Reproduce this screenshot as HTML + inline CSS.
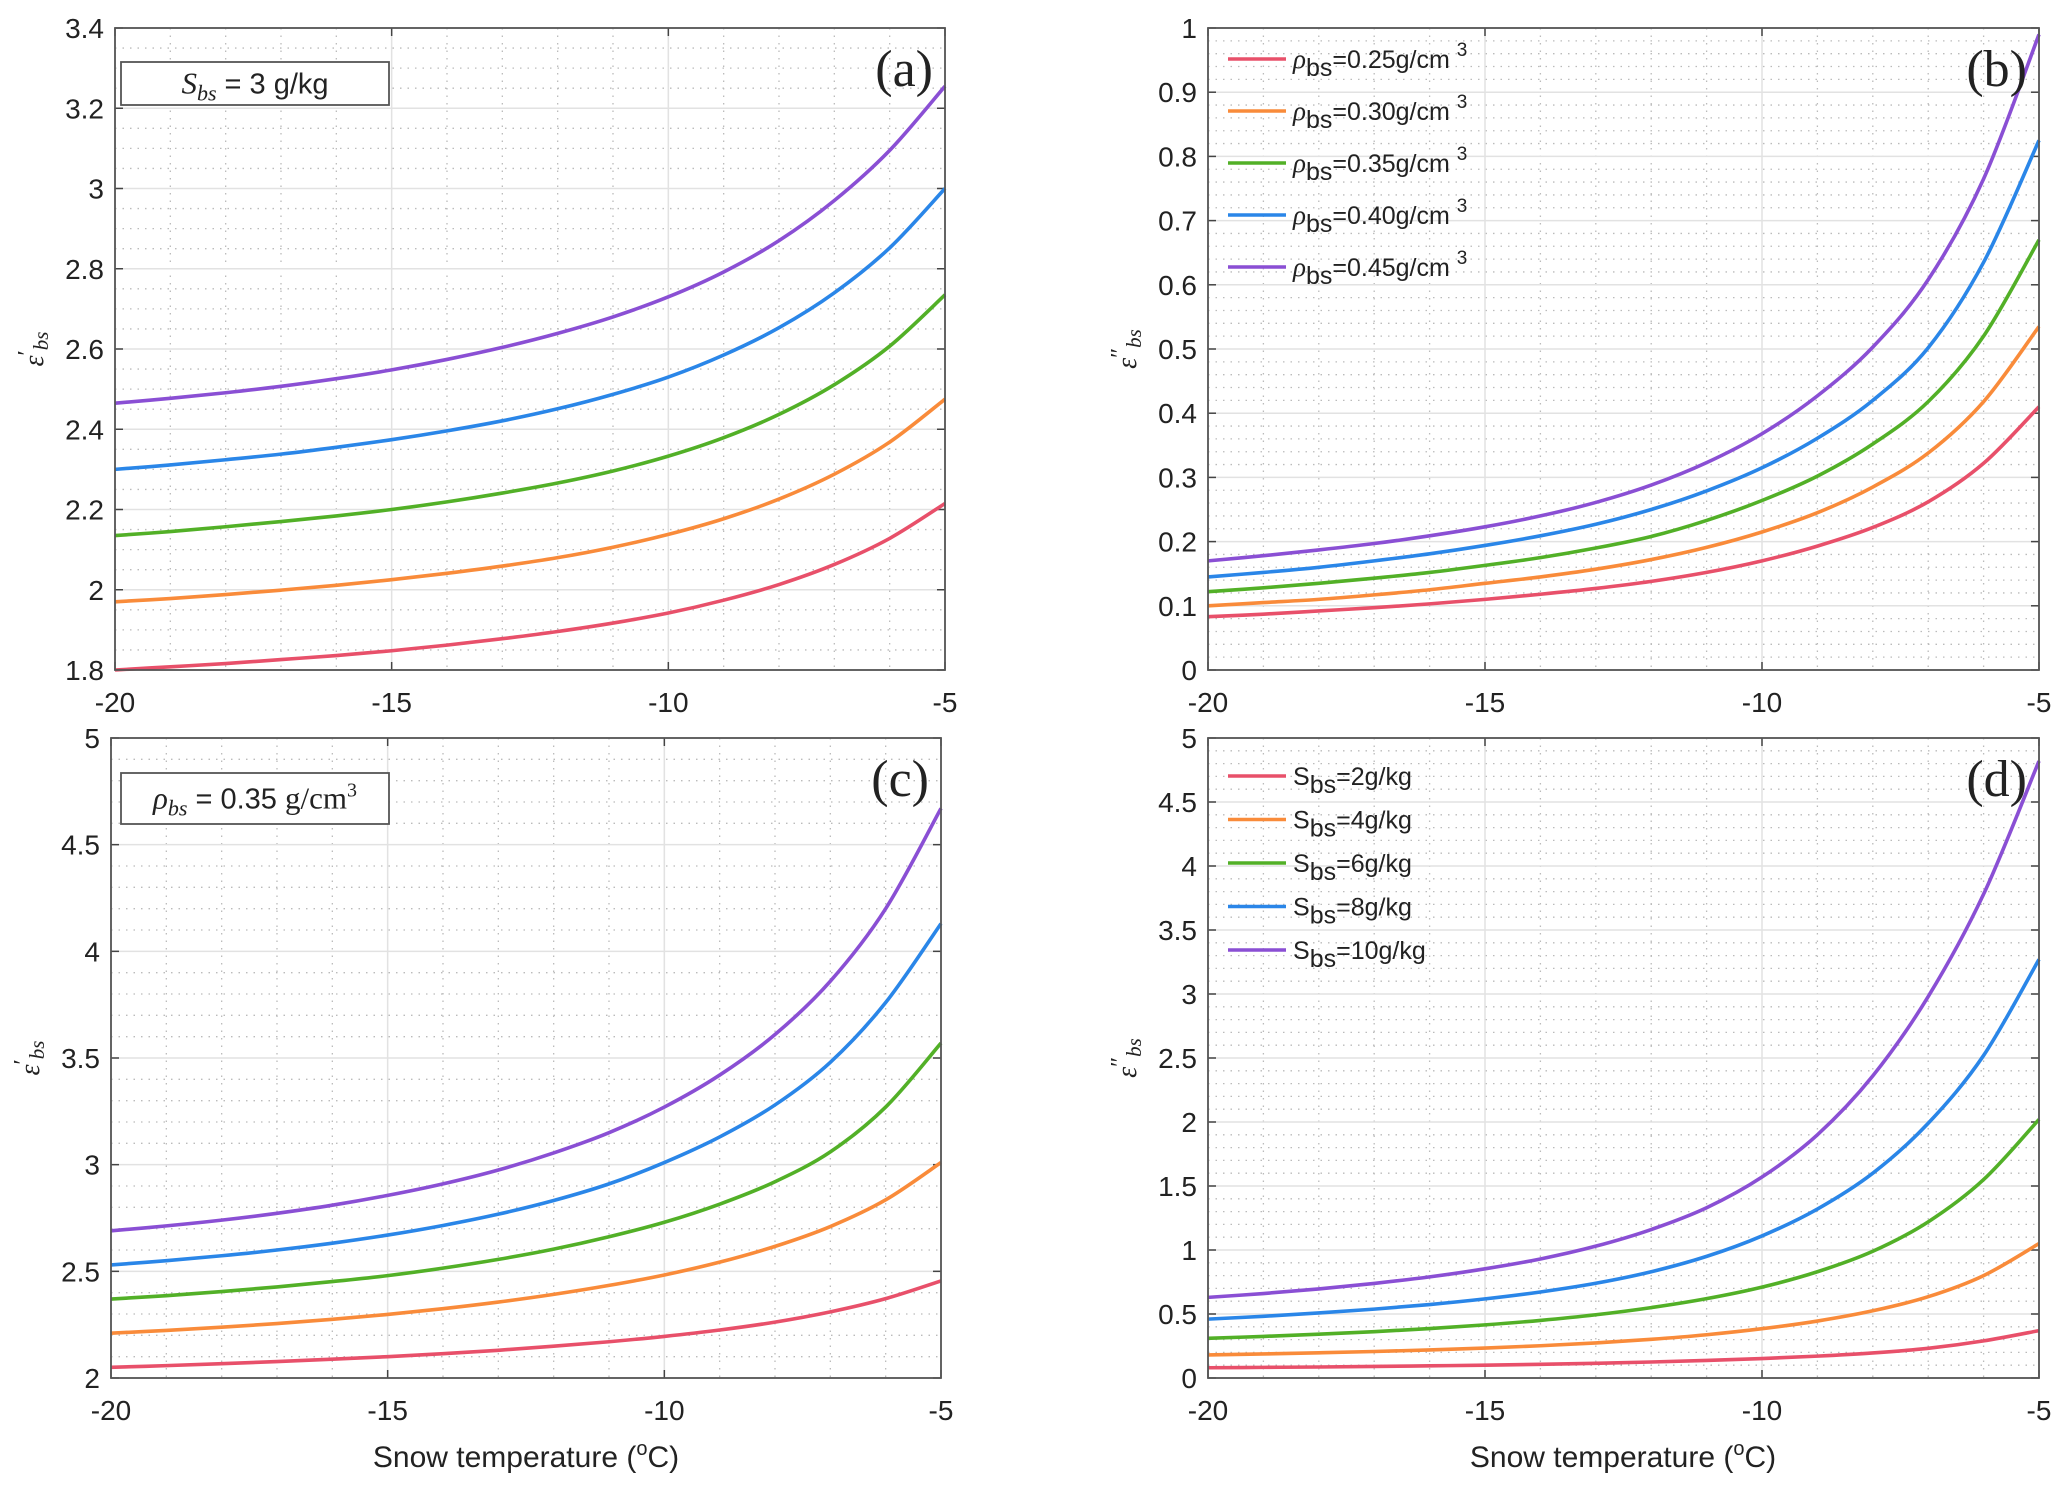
<!DOCTYPE html>
<html><head><meta charset="utf-8">
<style>
html,body{margin:0;padding:0;background:#fff;}
svg{display:block;}
text{font-family:"Liberation Sans",sans-serif;fill:#222;}
</style></head>
<body>
<svg id="fig" width="2067" height="1492" viewBox="0 0 2067 1492" xmlns="http://www.w3.org/2000/svg"></svg>
<script>
const temps = [-20,-19,-18,-17,-16,-15,-14,-13,-12,-11,-10,-9,-8,-7,-6,-5];
const colors = ["#e8506a","#f98b3a","#52b027","#2a86e8","#8a4fd4"];
const xTicks = [-20,-15,-10,-5];

const aRed    = [1.80,1.808,1.816,1.826,1.836,1.848,1.862,1.878,1.896,1.917,1.942,1.974,2.013,2.063,2.128,2.215];
const aOrange = [1.97,1.978,1.988,1.999,2.011,2.025,2.041,2.059,2.08,2.106,2.138,2.177,2.226,2.288,2.368,2.475];
const aGreen  = [2.135,2.145,2.157,2.17,2.184,2.20,2.219,2.241,2.266,2.296,2.333,2.379,2.437,2.511,2.607,2.735];
const aBlue   = [2.30,2.311,2.324,2.338,2.355,2.374,2.396,2.421,2.451,2.487,2.53,2.585,2.653,2.74,2.852,3.0];
const aPurple = [2.465,2.477,2.491,2.507,2.526,2.548,2.574,2.604,2.639,2.68,2.73,2.792,2.87,2.97,3.095,3.255];
const aTicks = [1.8,2,2.2,2.4,2.6,2.8,3,3.2,3.4];

const bRed    = [0.083,0.087,0.092,0.097,0.103,0.11,0.118,0.127,0.138,0.152,0.17,0.193,0.222,0.262,0.322,0.41];
const bOrange = [0.10,0.105,0.11,0.117,0.125,0.135,0.145,0.157,0.172,0.191,0.215,0.245,0.285,0.338,0.418,0.535];
const bGreen  = [0.122,0.128,0.135,0.143,0.152,0.163,0.175,0.19,0.208,0.233,0.264,0.302,0.352,0.418,0.52,0.67];
const bBlue   = [0.145,0.152,0.16,0.17,0.181,0.194,0.209,0.227,0.25,0.279,0.315,0.361,0.42,0.502,0.635,0.825];
const bPurple = [0.17,0.178,0.187,0.197,0.209,0.223,0.24,0.261,0.288,0.323,0.368,0.427,0.503,0.608,0.765,0.99];
const bTicks = [0,0.1,0.2,0.3,0.4,0.5,0.6,0.7,0.8,0.9,1];

const cRed    = [2.05,2.058,2.067,2.077,2.088,2.10,2.114,2.13,2.149,2.17,2.195,2.225,2.262,2.31,2.372,2.455];
const cOrange = [2.21,2.223,2.238,2.255,2.275,2.298,2.325,2.356,2.392,2.434,2.483,2.543,2.617,2.71,2.835,3.01];
const cGreen  = [2.37,2.386,2.405,2.427,2.452,2.48,2.515,2.556,2.604,2.662,2.73,2.815,2.92,3.06,3.27,3.57];
const cBlue   = [2.53,2.55,2.573,2.6,2.632,2.67,2.715,2.768,2.832,2.91,3.01,3.13,3.28,3.48,3.76,4.13];
const cPurple = [2.69,2.713,2.74,2.772,2.81,2.856,2.91,2.975,3.055,3.15,3.27,3.42,3.61,3.86,4.2,4.67];
const cTicks = [2,2.5,3,3.5,4,4.5,5];

const dRed    = [0.08,0.083,0.086,0.09,0.095,0.10,0.107,0.115,0.125,0.137,0.152,0.171,0.196,0.232,0.29,0.37];
const dOrange = [0.18,0.188,0.197,0.207,0.219,0.234,0.252,0.274,0.302,0.338,0.385,0.445,0.525,0.635,0.8,1.05];
const dGreen  = [0.31,0.325,0.342,0.362,0.386,0.415,0.45,0.494,0.55,0.62,0.71,0.83,0.99,1.22,1.55,2.02];
const dBlue   = [0.46,0.482,0.508,0.538,0.574,0.618,0.672,0.74,0.83,0.95,1.11,1.32,1.6,1.99,2.52,3.27];
const dPurple = [0.63,0.66,0.696,0.739,0.79,0.853,0.93,1.03,1.16,1.33,1.57,1.9,2.36,2.98,3.78,4.82];
const dTicks = [0,0.5,1,1.5,2,2.5,3,3.5,4,4.5,5];

const bLegend = ["0.25","0.30","0.35","0.40","0.45"];
const dLegend = ["2","4","6","8","10"];

const NS="http://www.w3.org/2000/svg";
const svg=document.getElementById('fig');
function mk(tag,attrs,parent){const e=document.createElementNS(NS,tag);for(const k in attrs)e.setAttribute(k,attrs[k]);(parent||svg).appendChild(e);return e;}

function panel(cfg){
  const {id,L,T,W,H,ymin,ymax,yticks,yminor,series,tag,ylab}=cfg;
  const g=mk('g',{});
  
  
  const xs=v=>L+(v+20)/15*W;
  const ys=v=>T+H-(v-ymin)/(ymax-ymin)*H;
  for(let t=-19;t<-5;t++){ if(t%5===0) continue;
    const l=mk('line',{x1:xs(t),x2:xs(t),y1:T,y2:T+H,stroke:'#bbb','stroke-width':1.3,'stroke-dasharray':'1.5 6'},g);
    }
  for(let v=ymin;v<ymax-1e-9;v+=yminor){
    if(yticks.some(t=>Math.abs(t-v)<1e-6)) continue;
    const l=mk('line',{x1:L,x2:L+W,y1:ys(v),y2:ys(v),stroke:'#bbb','stroke-width':1.3,'stroke-dasharray':'1.5 6'},g);
    }
  xTicks.forEach(t=>{const l=mk('line',{x1:xs(t),x2:xs(t),y1:T,y2:T+H,stroke:'#e2e2e2','stroke-width':1.5},g);
    });
  yticks.forEach(t=>{const l=mk('line',{x1:L,x2:L+W,y1:ys(t),y2:ys(t),stroke:'#e2e2e2','stroke-width':1.5},g);
    });
  xTicks.forEach(t=>{
    mk('line',{x1:xs(t),x2:xs(t),y1:T+H,y2:T+H-8,stroke:'#444','stroke-width':1.5},g);
    mk('line',{x1:xs(t),x2:xs(t),y1:T,y2:T+8,stroke:'#444','stroke-width':1.5},g);
    const tx=mk('text',{x:xs(t),y:T+H+42,'text-anchor':'middle','font-size':28},g);
    tx.textContent=String(t);
    });
  yticks.forEach(t=>{
    mk('line',{x1:L,x2:L+8,y1:ys(t),y2:ys(t),stroke:'#444','stroke-width':1.5},g);
    mk('line',{x1:L+W,x2:L+W-8,y1:ys(t),y2:ys(t),stroke:'#444','stroke-width':1.5},g);
    const tx=mk('text',{x:L-11,y:ys(t)+10,'text-anchor':'end','font-size':28},g);
    tx.textContent=String(t);
    });
  series.forEach((arr,i)=>{
    const pts=arr.map((v,k)=>[xs(temps[k]),ys(v)]);
    let d='M'+pts[0][0]+','+pts[0][1];
    for(let k=0;k<pts.length-1;k++){
      const p0=pts[Math.max(0,k-1)],p1=pts[k],p2=pts[k+1],p3=pts[Math.min(pts.length-1,k+2)];
      const c1x=p1[0]+(p2[0]-p0[0])/6,c1y=p1[1]+(p2[1]-p0[1])/6;
      const c2x=p2[0]-(p3[0]-p1[0])/6,c2y=p2[1]-(p3[1]-p1[1])/6;
      d+=` C${c1x},${c1y} ${c2x},${c2y} ${p2[0]},${p2[1]}`;
    }
    const p=mk('path',{d:d,fill:'none',stroke:colors[i],'stroke-width':3.6,'stroke-linejoin':'round'},g);
    
    
  });
  const fr=mk('rect',{x:L,y:T,width:W,height:H,fill:'none',stroke:'#555','stroke-width':1.8},g);
  
  const tg=mk('text',{x:L+W-12,y:T+58,'text-anchor':'end','font-size':52,style:'font-family:"Liberation Serif",serif'},g);
  tg.textContent=tag;
  
  const yl=mk('text',{transform:`translate(${L-72},${T+H/2}) rotate(-90)`,'text-anchor':'middle','font-size':28,style:'font-family:"Liberation Serif",serif;font-style:italic'},g);
  yl.innerHTML='ε<tspan font-style="normal" font-size="24" dy="-9">'+ylab+'</tspan><tspan font-size="21" dy="14">bs</tspan>';
  
  return {xs,ys,g};
}

panel({id:'a',L:115,T:28,W:830,H:642,ymin:1.8,ymax:3.4,yticks:aTicks,yminor:0.05,series:[aRed,aOrange,aGreen,aBlue,aPurple],tag:'(a)',ylab:'′'});
panel({id:'b',L:1208,T:28,W:831,H:642,ymin:0,ymax:1,yticks:bTicks,yminor:0.02,series:[bRed,bOrange,bGreen,bBlue,bPurple],tag:'(b)',ylab:'″'});
panel({id:'c',L:111,T:738,W:830,H:640,ymin:2,ymax:5,yticks:cTicks,yminor:0.1,series:[cRed,cOrange,cGreen,cBlue,cPurple],tag:'(c)',ylab:'′'});
panel({id:'d',L:1208,T:738,W:831,H:640,ymin:0,ymax:5,yticks:dTicks,yminor:0.1,series:[dRed,dOrange,dGreen,dBlue,dPurple],tag:'(d)',ylab:'″'});

function box(x,y,w,h,html,name){
  const r=mk('rect',{x:x,y:y,width:w,height:h,fill:'#fff',stroke:'#555','stroke-width':1.8});
  
  const t=mk('text',{x:x+w/2,y:y+h/2+10,'text-anchor':'middle','font-size':29});
  t.innerHTML=html;
  
}
box(121,62,268,43,'<tspan style="font-family:\'Liberation Serif\',serif;font-style:italic" font-size="31">S</tspan><tspan style="font-family:\'Liberation Serif\',serif;font-style:italic" font-size="22" dy="7">bs</tspan><tspan dy="-7"> = 3 g/kg</tspan>','salinity-annotation');
box(121,773,268,51,'<tspan style="font-family:\'Liberation Serif\',serif;font-style:italic" font-size="31">ρ</tspan><tspan style="font-family:\'Liberation Serif\',serif;font-style:italic" font-size="22" dy="7">bs</tspan><tspan dy="-7"> = 0.35 </tspan><tspan style="font-family:\'Liberation Serif\',serif" font-size="31">g/cm</tspan><tspan style="font-family:\'Liberation Serif\',serif" font-size="20" dy="-12">3</tspan>','density-annotation');

function legend(y0,dy,labels,fmt,name){
  labels.forEach((lab,i)=>{
    const y=y0+i*dy;
    const l=mk('line',{x1:1228,x2:1286,y1:y,y2:y,stroke:colors[i],'stroke-width':3.6});
    
    const t=mk('text',{x:1293,y:y+9,'font-size':25});
    t.innerHTML=fmt(lab);
    
  });
}
legend(59,52,bLegend,l=>'<tspan style="font-family:\'Liberation Serif\',serif;font-style:italic" font-size="27">ρ</tspan><tspan dy="8">bs</tspan><tspan dy="-8">='+l+'g/cm </tspan><tspan font-size="19" dy="-12">3</tspan>','density-legend');
legend(776,43.5,dLegend,l=>'S<tspan dy="8">bs</tspan><tspan dy="-8">='+l+'g/kg</tspan>','salinity-legend');

[[526,'x-axis-title-c'],[1623,'x-axis-title-d']].forEach(([x,n])=>{
  const t=mk('text',{x:x,y:1467,'text-anchor':'middle','font-size':30});
  t.innerHTML='Snow temperature (<tspan font-size="20" dy="-12">o</tspan><tspan dy="12">C)</tspan>';
  
});
</script>
</body></html>
